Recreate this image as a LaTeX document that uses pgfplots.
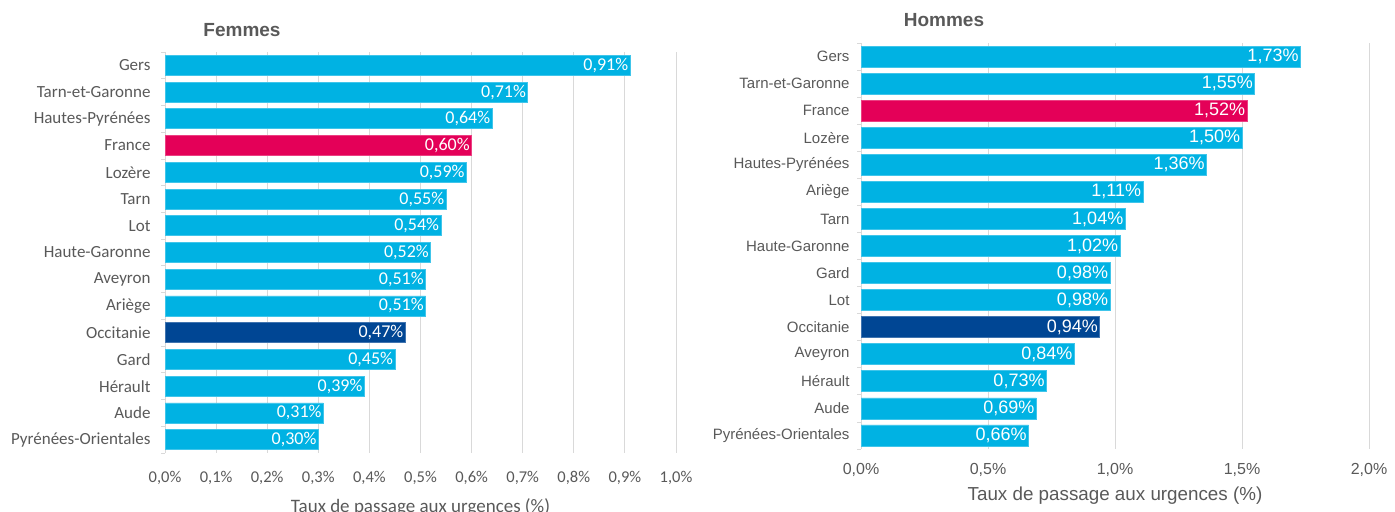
\documentclass[border=0pt]{standalone}
\usepackage{pgfplots}
\pgfplotsset{compat=1.18}
\usepackage{fontspec}
\setmainfont{Liberation Sans}
\newfontfamily\carlito{Carlito}
\definecolor{lb}{RGB}{0,178,227}
\definecolor{pk}{RGB}{228,0,88}
\definecolor{db}{RGB}{0,70,148}
\definecolor{txt}{RGB}{89,89,89}
\definecolor{grd}{RGB}{217,217,217}
\begin{document}
\begin{tikzpicture}
\useasboundingbox (0bp,0bp) rectangle (1395bp,512bp);
\pgfplotsset{
 common/.style={
  xbar, bar shift=0pt, scale only axis, y dir=reverse,
  ymin=-0.5, ymax=14.5, ytick={0,...,14},
  minor ytick={-0.5,0.5,...,14.5},
  major tick length=0pt, minor tick length=4bp,
  minor tick style={grd, line width=0.75bp},
  tick pos=left, tick align=outside,
  axis line style={draw=none},
  xmajorgrids, major grid style={grd, line width=0.9bp},
  /pgf/number format/assume math mode=true,
  point meta=x,
  every node near coord/.append style={anchor=east, text=white, inner sep=1.5bp},
  clip=false,
  ticklabel style={text=txt},
  xlabel style={text=txt},
 }
}
% ---------------- Femmes ----------------
\begin{axis}[common,
  at={(165bp,59bp)}, anchor=south west, width=511bp, height=401bp,
  bar width=20bp,
  xmin=0, xmax=1, xtick={0,0.1,0.2,0.3,0.4,0.5,0.6,0.7,0.8,0.9,1},
  xticklabel={\pgfmathprintnumber[fixed,fixed zerofill,precision=1,use comma]{\tick}\%},
  yticklabels={Gers,Tarn-et-Garonne,Hautes-Pyrénées,France,Lozère,Tarn,Lot,Haute-Garonne,Aveyron,Ariège,Occitanie,Gard,Hérault,Aude,Pyrénées-Orientales},
  yticklabel style={font=\carlito\fontsize{17bp}{19bp}\selectfont, anchor=east, xshift=-11bp},
  xticklabel style={font=\carlito\fontsize{16.5bp}{19bp}\selectfont, anchor=north, yshift=-15bp},
  nodes near coords={\pgfmathprintnumber[fixed,fixed zerofill,precision=2,use comma]{\pgfplotspointmeta}\%},
  every node near coord/.append style={font=\carlito\fontsize{18bp}{20bp}\selectfont},
  xlabel={Taux de passage aux urgences (\%)},
  xlabel style={font=\carlito\fontsize{19bp}{21bp}\selectfont, at={(axis description cs:0.5,0)}, anchor=center, yshift=-54bp},
]
\addplot[fill=lb, draw=lb!75!white, line width=0.8bp] coordinates {(0.91,0) (0.71,1) (0.64,2) (0.59,4) (0.55,5) (0.54,6) (0.52,7) (0.51,8) (0.51,9) (0.45,11) (0.39,12) (0.31,13) (0.30,14)};
\addplot[fill=pk, draw=pk!75!white, line width=0.8bp] coordinates {(0.60,3)};
\addplot[fill=db, draw=db!75!white, line width=0.8bp] coordinates {(0.47,10)};
\end{axis}
% ---------------- Hommes ----------------
\begin{axis}[common,
  at={(861bp,63bp)}, anchor=south west, width=508bp, height=406bp,
  bar width=21bp,
  xmin=0, xmax=2, xtick={0,0.5,1,1.5,2},
  xticklabel={\pgfmathprintnumber[fixed,fixed zerofill,precision=1,use comma]{\tick}\%},
  yticklabels={Gers,Tarn-et-Garonne,France,Lozère,Hautes-Pyrénées,Ariège,Tarn,Haute-Garonne,Gard,Lot,Occitanie,Aveyron,Hérault,Aude,Pyrénées-Orientales},
  yticklabel style={font=\fontsize{15bp}{17bp}\selectfont, anchor=east, xshift=-8bp},
  xticklabel style={font=\fontsize{16bp}{18bp}\selectfont, anchor=north, yshift=-11bp},
  nodes near coords={\pgfmathprintnumber[fixed,fixed zerofill,precision=2,use comma]{\pgfplotspointmeta}\%},
  every node near coord/.append style={font=\fontsize{18bp}{20bp}\selectfont},
  xlabel={Taux de passage aux urgences (\%)},
  xlabel style={font=\fontsize{18.8bp}{21bp}\selectfont, at={(axis description cs:0.5,0)}, anchor=center, yshift=-47bp},
]
\addplot[fill=lb, draw=lb!75!white, line width=0.8bp] coordinates {(1.73,0) (1.55,1) (1.50,3) (1.36,4) (1.11,5) (1.04,6) (1.02,7) (0.98,8) (0.98,9) (0.84,11) (0.73,12) (0.69,13) (0.66,14)};
\addplot[fill=pk, draw=pk!75!white, line width=0.8bp] coordinates {(1.52,2)};
\addplot[fill=db, draw=db!75!white, line width=0.8bp] coordinates {(0.94,10)};
\end{axis}
\node[font=\bfseries\fontsize{19bp}{21bp}\selectfont, text=txt] at (242bp,482bp) {Femmes};
\node[font=\bfseries\fontsize{19bp}{21bp}\selectfont, text=txt] at (944bp,492bp) {Hommes};
\end{tikzpicture}
\end{document}
